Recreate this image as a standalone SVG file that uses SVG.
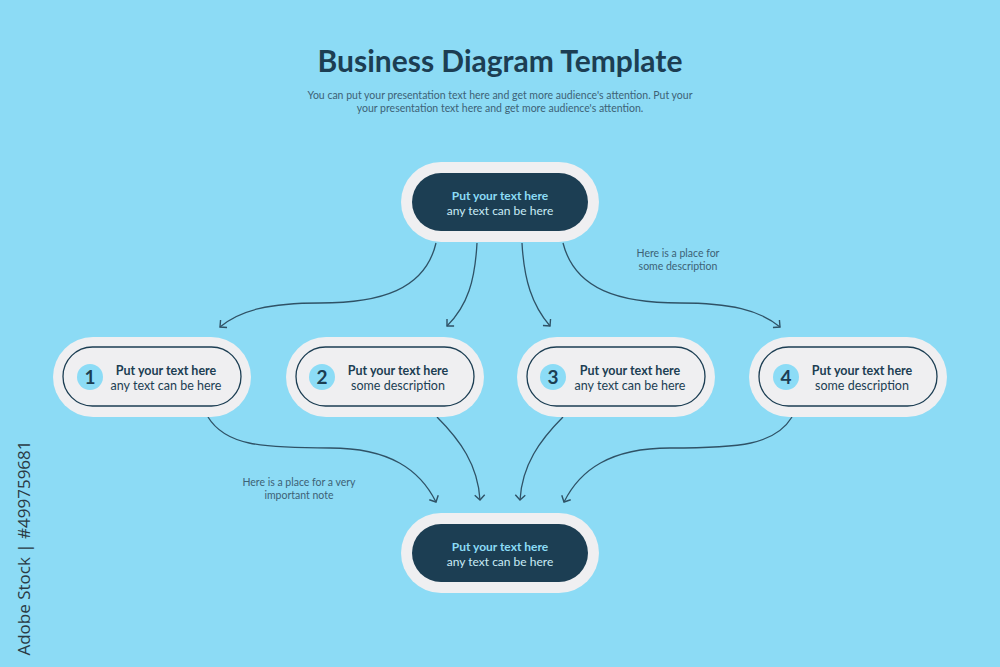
<svg xmlns="http://www.w3.org/2000/svg" width="1000" height="667" viewBox="0 0 1000 667">
<defs>
<marker id="ar" viewBox="0 0 12 12" refX="6" refY="6" markerWidth="12" markerHeight="12" markerUnits="userSpaceOnUse" orient="auto"><path d="M1,1 L6,6 L1,11" fill="none" stroke="#2f5266" stroke-width="1.4"/></marker>
<style>
text{font-family:Lato,"Open Sans",sans-serif;text-anchor:middle}
.outer{fill:#efeff1}
.dark{fill:#1c3e53}
.inner{fill:#efeff1;stroke:#1c3e53;stroke-width:1.3}
.t1{font-weight:bold;font-size:12.5px;fill:#1c3e53}
.t2{font-size:12.5px;fill:#1c3e53}
.d1{font-weight:bold;font-size:12px;fill:#8cdcf6}
.d2{font-size:12px;fill:#c9ecf7}
.num{fill:#8cdcf6}
.nt{font-weight:bold;font-size:19px;fill:#1c3e53}
.note{font-size:10.5px;fill:#3d6275}
.c{fill:none;stroke:#2f5266;stroke-width:1.3;marker-end:url(#ar)}
</style>
</defs>
<rect width="1000" height="667" fill="#8cdbf5"/>
<text x="500" y="72" style="font-weight:bold;font-size:30px;fill:#1c3e53">Business Diagram Template</text>
<text x="500" y="99" class="note">You can put your presentation text here and get more audience's attention. Put your</text>
<text x="500" y="112" class="note">your presentation text here and get more audience's attention.</text>
<text x="678" y="257" class="note">Here is a place for</text>
<text x="678" y="270" class="note">some description</text>
<text x="299" y="486" class="note">Here is a place for a very</text>
<text x="299" y="499" class="note">important note</text>
<text transform="translate(30,548) rotate(-90)" style="font-size:17px;fill:#2a3a44;text-anchor:middle;font-family:'Open Sans',sans-serif">Adobe Stock | #499759681</text>
<g id="connectors">
<path class="c" d="M436,243 C425,290 380,303 320,303 C270,303 240,310 220,327"/>
<path class="c" d="M477,243 C475,280 468,305 447,326"/>
<path class="c" d="M522,243 C524,280 532,305 550,326"/>
<path class="c" d="M563,243 C575,290 620,303 680,303 C730,303 760,310 780,327"/>
<path class="c" d="M208,417 C225,445 260,448 330,448 C390,448 420,470 436,502"/>
<path class="c" d="M437,417 C460,440 478,465 480,500"/>
<path class="c" d="M563,417 C540,440 522,465 520,500"/>
<path class="c" d="M792,417 C775,445 740,448 670,448 C610,448 580,470 564,502"/>
</g>
<g id="top"><rect class="outer" x="401" y="162" width="198" height="80" rx="40"/><rect class="dark" x="412" y="173" width="176" height="58" rx="29"/><text x="500" y="200" class="d1">Put your text here</text><text x="500" y="215" class="d2">any text can be here</text></g>
<g id="n1"><rect class="outer" x="53" y="337" width="198" height="80" rx="40"/><rect class="inner" x="63" y="347" width="178" height="59" rx="29.5"/><circle class="num" cx="90" cy="377" r="13"/><text x="90" y="384" class="nt">1</text><text x="166" y="375" class="t1">Put your text here</text><text x="166" y="390" class="t2">any text can be here</text></g>
<g id="n2"><rect class="outer" x="286" y="337" width="198" height="80" rx="40"/><rect class="inner" x="296" y="347" width="178" height="59" rx="29.5"/><circle class="num" cx="322" cy="377" r="13"/><text x="322" y="384" class="nt">2</text><text x="398" y="375" class="t1">Put your text here</text><text x="398" y="390" class="t2">some description</text></g>
<g id="n3"><rect class="outer" x="517" y="337" width="198" height="80" rx="40"/><rect class="inner" x="527" y="347" width="178" height="59" rx="29.5"/><circle class="num" cx="553" cy="377" r="13"/><text x="553" y="384" class="nt">3</text><text x="630" y="375" class="t1">Put your text here</text><text x="630" y="390" class="t2">any text can be here</text></g>
<g id="n4"><rect class="outer" x="749" y="337" width="198" height="80" rx="40"/><rect class="inner" x="759" y="347" width="178" height="59" rx="29.5"/><circle class="num" cx="786" cy="377" r="13"/><text x="786" y="384" class="nt">4</text><text x="862" y="375" class="t1">Put your text here</text><text x="862" y="390" class="t2">some description</text></g>
<g id="bottom"><rect class="outer" x="401" y="513" width="198" height="80" rx="40"/><rect class="dark" x="412" y="524" width="176" height="58" rx="29"/><text x="500" y="551" class="d1">Put your text here</text><text x="500" y="566" class="d2">any text can be here</text></g>
</svg>
